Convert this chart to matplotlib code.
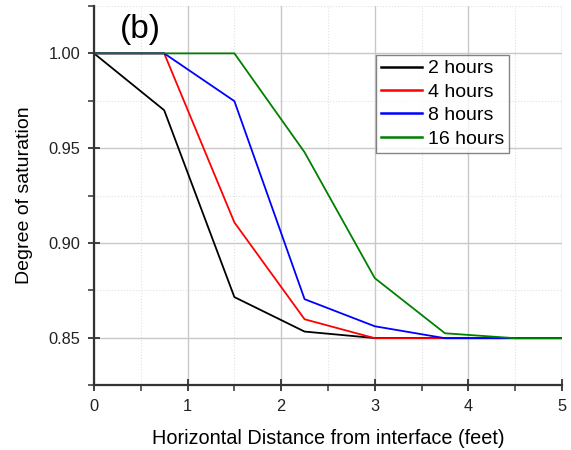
import matplotlib.pyplot as plt
from matplotlib.ticker import MultipleLocator

plt.rcParams['font.family'] = ['Liberation Sans', 'DejaVu Sans']

distance = [0, 0.75, 1.5, 2.25, 3.0, 3.75, 4.5, 5.0]
sat_2h = [1.0, 0.970, 0.8714, 0.8532, 0.8498, 0.8498, 0.8498, 0.8498]
sat_4h = [1.0, 1.0, 0.9108, 0.8597, 0.8497, 0.8497, 0.8497, 0.8497]
sat_8h = [1.0, 1.0, 0.9748, 0.8703, 0.8560, 0.8497, 0.8497, 0.8497]
sat_16h = [1.0, 1.0, 1.0, 0.9478, 0.8814, 0.8523, 0.8497, 0.8497]

series = [
    (sat_2h, '2 hours', 'black'),
    (sat_4h, '4 hours', 'red'),
    (sat_8h, '8 hours', 'blue'),
    (sat_16h, '16 hours', 'green'),
]

fig = plt.figure(figsize=(5.71, 4.5), dpi=100)
ax = fig.add_axes([0.1646, 0.1444, 0.8196, 0.8423])

for values, label, color in series:
    ax.plot(distance, values, color=color, linewidth=1.3, label=label)

ax.set_xlim(0, 5)
ax.set_ylim(0.825, 1.025)
ax.xaxis.set_major_locator(MultipleLocator(1))
ax.xaxis.set_minor_locator(MultipleLocator(0.5))
ax.yaxis.set_major_locator(MultipleLocator(0.05))
ax.yaxis.set_minor_locator(MultipleLocator(0.025))
ax.yaxis.set_major_formatter(plt.FormatStrFormatter('%.2f'))

ax.grid(True, which='major', color='#c8c8c8', linewidth=1.0)
ax.grid(True, which='minor', color='#e0e0e0', linewidth=0.8, linestyle=':')
ax.set_axisbelow(True)

for side in ['top', 'right']:
    ax.spines[side].set_visible(False)
for side in ['left', 'bottom']:
    ax.spines[side].set_linewidth(1.6)
    ax.spines[side].set_color('#333333')

ax.tick_params(which='major', direction='inout', length=8, width=1.3, pad=6,
               labelsize=11.8, colors='#333333', labelcolor='#222222')
ax.tick_params(which='minor', direction='out', length=4, width=1.1, colors='#333333')

ax.set_xlabel('Horizontal Distance from interface (feet)', fontsize=14.3, labelpad=11)
ax.set_ylabel('Degree of saturation', fontsize=14, labelpad=11)

ax.text(0.28, 1.0128, '(b)', fontsize=24, ha='left', va='center')

leg = ax.legend(loc='upper left', bbox_to_anchor=(0.603, 0.871), fontsize=14,
                frameon=True, fancybox=False, borderpad=0.25, handlelength=2.1,
                handletextpad=0.3, labelspacing=0.3, borderaxespad=0)
leg.get_frame().set_edgecolor('#666666')
leg.get_frame().set_linewidth(1.0)
for line in leg.get_lines():
    line.set_linewidth(1.8)

fig.savefig('out.png', dpi=100)
